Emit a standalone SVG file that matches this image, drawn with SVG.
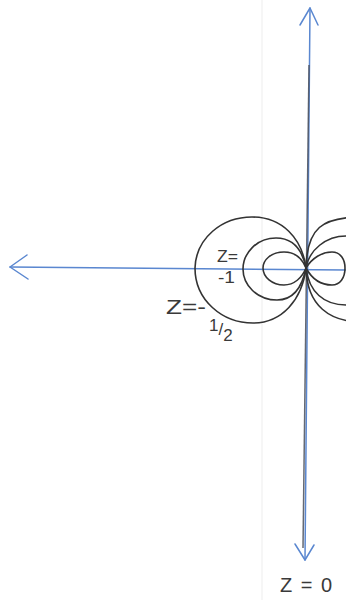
<svg xmlns="http://www.w3.org/2000/svg" width="346" height="600" viewBox="0 0 346 600">
<style>
.pen{fill:none;stroke:#333333;stroke-width:1.6;stroke-linecap:round;stroke-linejoin:round}
.ax{fill:none;stroke:#5a87d0;stroke-width:1.5;stroke-linecap:round;stroke-linejoin:round}
.lbl{font-family:"Liberation Sans",Arial,sans-serif;fill:#3a3a3a}
</style>
<rect width="346" height="600" fill="#ffffff"/>
<line x1="262" y1="0" x2="262" y2="600" stroke="#ededed" stroke-width="1"/>
<g id="connectors">
  <path class="ax" d="M10,267 L346,270"/>
  <path class="ax" d="M27,255 L10,267 L28,279"/>
  <path class="ax" d="M310,8 L305,560"/>
  <path class="ax" d="M300,25 L310,8 L318,25"/>
  <path class="ax" d="M295,544 L305,560 L314,545"/>
  <path d="M309,65 L303,548" fill="none" stroke="#4a4f5a" stroke-width="1.5" stroke-opacity="0.85"/>
</g>
<g id="contour-left-outer"><path class="pen" d="M306,268 C302,238 282,217 252,217 C222,217 196,238 195,268 C195,300 222,323 253,323 C282,323 302,300 306,268 Z"/></g>
<g id="contour-left-middle"><path class="pen" d="M306,268 C302,248 292,238 276,238 C256,238 243,254 243,269 C243,285 257,300 277,300 C293,300 302,288 306,268 Z"/></g>
<g id="contour-left-inner"><path class="pen" d="M306,268 C302,258 294,252 284,252 C271,252 263,260 263,268 C263,277 272,285 284,285 C294,285 302,278 306,268 Z"/></g>
<g id="contour-right-outer"><path class="pen" d="M306,268 C307,228 322,217 362,217 C395,217 420,240 420,268 C420,298 395,322 362,322 C330,322 307,306 306,268 Z"/></g>
<g id="contour-right-middle"><path class="pen" d="M306,268 C309,250 326,236 346,236 C370,236 385,250 385,270 C385,290 368,305 346,305 C324,305 309,292 306,268 Z"/></g>
<g id="contour-right-inner"><path class="pen" d="M306,268 C312,258 322,252 332,252 C341,252 345,260 345,268 C345,278 340,285 332,285 C321,285 312,279 306,268 Z"/></g>
<g id="label-z-minus1">
  <text class="lbl" x="217" y="262" font-size="16" textLength="21" lengthAdjust="spacingAndGlyphs">Z=</text>
  <text class="lbl" x="218" y="283" font-size="16" textLength="17" lengthAdjust="spacingAndGlyphs">-1</text>
</g>
<g id="label-z-minus-half">
  <text class="lbl" x="166" y="314" font-size="21" textLength="40" lengthAdjust="spacingAndGlyphs">Z=-</text>
  <text class="lbl" x="209" y="331" font-size="17"><tspan>1</tspan><tspan dy="4">/</tspan><tspan dy="6">2</tspan></text>
</g>
<g id="label-z-0">
  <text class="lbl" x="280" y="592" font-size="20" textLength="52" lengthAdjust="spacing">Z=0</text>
</g>
</svg>
